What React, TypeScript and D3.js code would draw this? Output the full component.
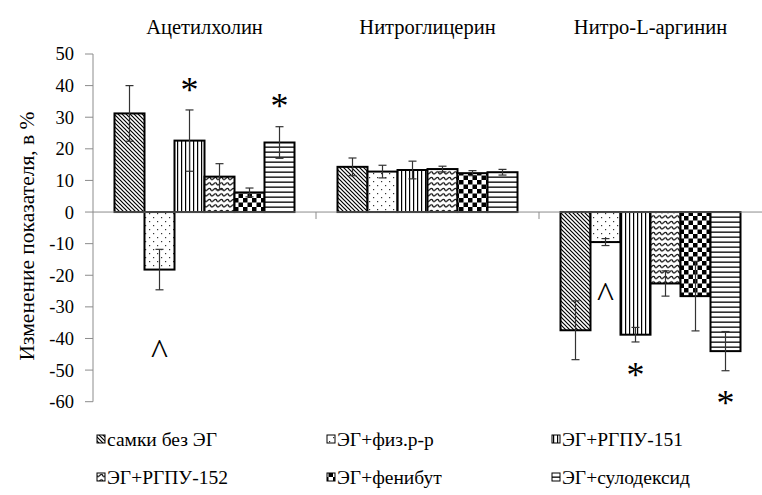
import React from "react";
import * as d3 from "d3";

const categories = ["Ацетилхолин", "Нитроглицерин", "Нитро-L-аргинин"];
const series = ["самки без ЭГ", "ЭГ+физ.р-р", "ЭГ+РГПУ-151", "ЭГ+РГПУ-152", "ЭГ+фенибут", "ЭГ+сулодексид"];
const patternIds = ["pDiag", "pDots", "pVert", "pWave", "pCheck", "pHoriz"];
// values[seriesIndex][categoryIndex]
const values = [
  [31.2, 14.3, -37.4],
  [-18.2, 12.8, -9.5],
  [22.6, 13.3, -38.8],
  [11.2, 13.6, -22.6],
  [6.2, 12.3, -26.6],
  [22.0, 12.6, -44.0],
];
const errors = [
  [8.8, 2.8, 9.3],
  [6.4, 2.0, 1.1],
  [9.7, 2.8, 2.3],
  [4.1, 0.9, 4.0],
  [1.4, 0.8, 11.0],
  [5.0, 0.9, 6.2],
];
const yTicks = [50, 40, 30, 20, 10, 0, -10, -20, -30, -40, -50, -60];
// annotations: [categoryIndex, seriesIndex, symbol, value position]
const annotations: [number, number, string, number][] = [
  [0, 2, "*", 43],
  [0, 5, "*", 38],
  [0, 1, "^", -41],
  [2, 1, "^", -23],
  [2, 2, "*", -47],
  [2, 5, "*", -56],
];

const W = 762;
const H = 495;
const left = 93;
const right = 762;
const FONT = "Liberation Serif, DejaVu Serif, Times New Roman, Liberation Sans, sans-serif";

export default function App() {
  const y = d3.scaleLinear().domain([-60, 50]).range([401.7, 54]);
  const x0 = d3.scaleBand<string>().domain(categories).range([left, right]).padding(0);
  const x1 = d3
    .scaleBand<string>()
    .domain(series)
    .range([21.5, x0.bandwidth() - 21.5])
    .padding(0);
  const bw = x1.bandwidth();
  const axisColor = "#8c8c8c";
  const legendX = [97, 327, 552];
  const legendY = [439, 477];
  const ts = { fontFamily: FONT };

  return (
    <div style={{ position: "absolute", left: 0, top: 0 }}>
      <svg width={W} height={H} style={{ display: "block", background: "#fff", fontFamily: FONT }}>
        <defs>
          <pattern id="pDiag" patternUnits="userSpaceOnUse" width={4} height={4}>
            <rect width={4} height={4} fill="#fff" />
            <path d="M-1,-1 L5,5 M3,-1 L5,1 M-1,3 L1,5" stroke="#000" strokeWidth={1.2} />
          </pattern>
          <pattern id="pDots" patternUnits="userSpaceOnUse" width={8} height={8}>
            <rect width={8} height={8} fill="#fff" />
            <rect x={1} y={1} width={1.2} height={1.2} fill="#333" />
            <rect x={5} y={5} width={1.2} height={1.2} fill="#333" />
          </pattern>
          <pattern id="pVert" patternUnits="userSpaceOnUse" width={4} height={4}>
            <rect width={4} height={4} fill="#fff" />
            <rect x={1} y={0} width={1.2} height={4} fill="#000" />
          </pattern>
          <pattern id="pWave" patternUnits="userSpaceOnUse" width={6} height={5.5}>
            <rect width={6} height={5.5} fill="#fff" />
            <path d="M0,1.2 Q1.5,4.6 3,3 Q4.5,1.2 6,1.2" stroke="#000" strokeWidth={1.1} fill="none" />
          </pattern>
          <pattern id="pCheck" patternUnits="userSpaceOnUse" width={9} height={9}>
            <rect width={9} height={9} fill="#fff" />
            <rect x={0} y={0} width={4.5} height={4.5} fill="#000" />
            <rect x={4.5} y={4.5} width={4.5} height={4.5} fill="#000" />
          </pattern>
          <pattern id="pHoriz" patternUnits="userSpaceOnUse" width={5} height={5}>
            <rect width={5} height={5} fill="#fff" />
            <rect x={0} y={1.5} width={5} height={1.3} fill="#000" />
          </pattern>
        </defs>

        {/* Y axis */}
        <line x1={left} x2={left} y1={y(50)} y2={y(-60)} stroke={axisColor} strokeWidth={1} />
        {yTicks.map((t) => (
          <g key={t}>
            <line x1={left - 8} x2={left} y1={y(t)} y2={y(t)} stroke={axisColor} strokeWidth={1} />
            <text x={left - 19} y={y(t)} dy="0.35em" textAnchor="end" fontSize={18.5} fill="#000" style={ts}>
              {t}
            </text>
          </g>
        ))}
        <text
          transform={`translate(26,${236}) rotate(-90)`}
          textAnchor="middle"
          dy="0.35em"
          fontSize={21.5}
          fill="#000"
          style={ts}
        >
          Изменение показателя, в %
        </text>

        {/* Category labels */}
        {categories.map((c) => (
          <text
            key={c}
            x={(x0(c) as number) + x0.bandwidth() / 2}
            y={34}
            textAnchor="middle"
            fontSize={20.5}
            fill="#000"
            style={ts}
          >
            {c}
          </text>
        ))}

        {/* Bars */}
        {series.map((s, si) =>
          categories.map((c, ci) => {
            const v = values[si][ci];
            const bx = (x0(c) as number) + (x1(s) as number);
            const y0 = y(Math.max(0, v));
            const h = Math.abs(y(v) - y(0));
            return (
              <rect
                key={s + c}
                x={bx}
                y={y0}
                width={bw}
                height={h}
                fill={`url(#${patternIds[si]})`}
                stroke="#000"
                strokeWidth={2}
              />
            );
          })
        )}

        {/* Zero line */}
        <line x1={left} x2={right} y1={y(0)} y2={y(0)} stroke={axisColor} strokeWidth={1} />
        {categories.map((c, i) =>
          i > 0 ? (
            <line
              key={"t" + c}
              x1={x0(c) as number}
              x2={x0(c) as number}
              y1={y(0)}
              y2={y(0) + 7}
              stroke={axisColor}
              strokeWidth={1}
            />
          ) : null
        )}

        {/* Error bars */}
        {series.map((s, si) =>
          categories.map((c, ci) => {
            const v = values[si][ci];
            const e = errors[si][ci];
            const cx = (x0(c) as number) + (x1(s) as number) + bw / 2;
            return (
              <g key={"e" + s + c} stroke="#333" strokeWidth={1.2}>
                <line x1={cx} x2={cx} y1={y(v + e)} y2={y(v - e)} />
                <line x1={cx - 4} x2={cx + 4} y1={y(v + e)} y2={y(v + e)} />
                <line x1={cx - 4} x2={cx + 4} y1={y(v - e)} y2={y(v - e)} />
              </g>
            );
          })
        )}

        {/* Annotations */}
        {annotations.map(([ci, si, sym, pos], i) => {
          const cx = (x0(categories[ci]) as number) + (x1(series[si]) as number) + bw / 2;
          return (
            <text
              key={"a" + i}
              x={cx}
              y={y(pos)}
              textAnchor="middle"
              fontSize={sym === "*" ? 36 : 36}
              fontWeight={300}
              dy={sym === "*" ? "0.72em" : "0.62em"}
              fill="#000"
              style={ts}
            >
              {sym}
            </text>
          );
        })}

        {/* Legend */}
        {series.map((s, i) => {
          const lx = legendX[i % 3];
          const ly = legendY[Math.floor(i / 3)];
          return (
            <g key={"l" + s}>
              <rect x={lx} y={ly - 4} width={8} height={8} fill={`url(#${patternIds[i]})`} stroke="#000" strokeWidth={1} />
              <text x={lx + 10} y={ly} dy="0.35em" fontSize={19.5} fill="#000" style={ts}>
                {s}
              </text>
            </g>
          );
        })}
      </svg>
    </div>
  );
}
